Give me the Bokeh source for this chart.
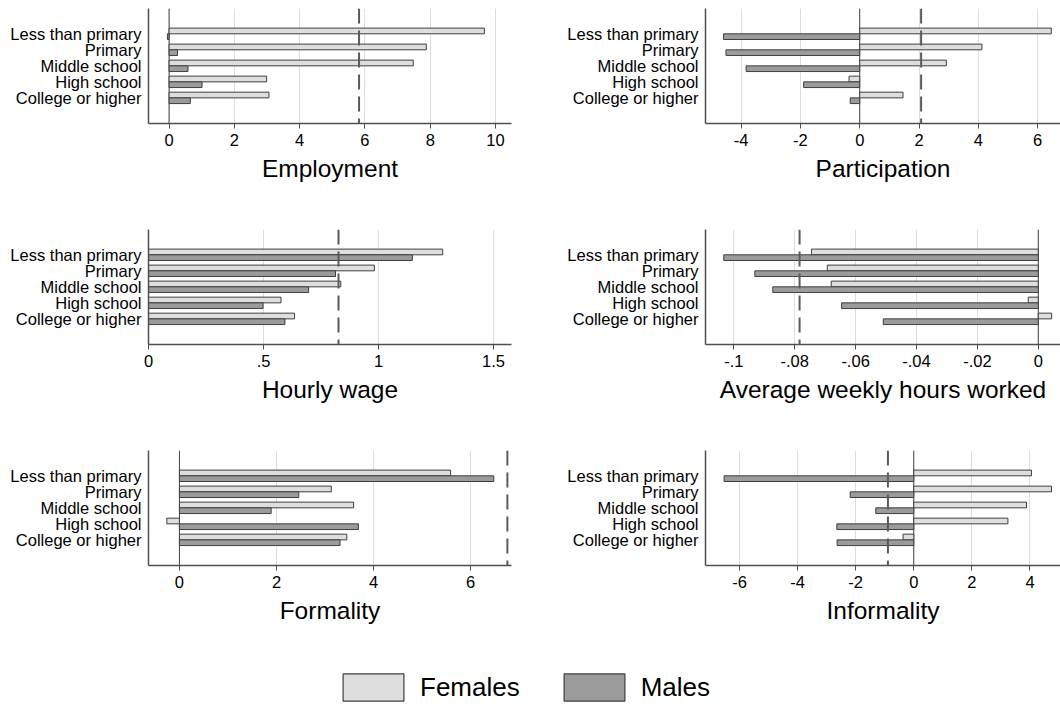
from bokeh.plotting import figure
from bokeh.layouts import column, row
from bokeh.models import (Range1d, FixedTicker, Span, Legend, LegendItem,
                          ColumnDataSource)
from bokeh.transform import dodge
from bokeh.embed import file_html
from bokeh.resources import INLINE

# Education groups, top to bottom
education = ["Less than primary", "Primary", "Middle school",
             "High school", "College or higher"]

# Estimated effects by group (females / males) and the overall (dashed) effect
employment_f = [9.66, 7.88, 7.48, 2.99, 3.06]
employment_m = [-0.05, 0.26, 0.58, 1.01, 0.65]
employment_all = 5.82

participation_f = [6.46, 4.12, 2.92, -0.36, 1.46]
participation_m = [-4.59, -4.51, -3.83, -1.89, -0.32]
participation_all = 2.07

wage_f = [1.279, 0.982, 0.836, 0.576, 0.635]
wage_m = [1.147, 0.813, 0.696, 0.498, 0.593]
wage_all = 0.826

hours_f = [-0.0745, -0.0693, -0.0680, -0.0033, 0.0044]
hours_m = [-0.1033, -0.0931, -0.0872, -0.0646, -0.0509]
hours_all = -0.0784

formality_f = [5.59, 3.13, 3.59, -0.26, 3.45]
formality_m = [6.48, 2.46, 1.89, 3.69, 3.31]
formality_all = 6.76

informality_f = [4.05, 4.74, 3.88, 3.24, -0.37]
informality_m = [-6.53, -2.19, -1.31, -2.65, -2.64]
informality_all = -0.89

# Axis ticks and their printed labels
employment_ticks = [0, 2, 4, 6, 8, 10]
employment_labels = ["0", "2", "4", "6", "8", "10"]
participation_ticks = [-4, -2, 0, 2, 4, 6]
participation_labels = ["-4", "-2", "0", "2", "4", "6"]
wage_ticks = [0, 0.5, 1, 1.5]
wage_labels = ["0", ".5", "1", "1.5"]
hours_ticks = [-0.1, -0.08, -0.06, -0.04, -0.02, 0]
hours_labels = ["-.1", "-.08", "-.06", "-.04", "-.02", "0"]
formality_ticks = [0, 2, 4, 6]
formality_labels = ["0", "2", "4", "6"]
informality_ticks = [-6, -4, -2, 0, 2, 4]
informality_labels = ["-6", "-4", "-2", "0", "2", "4"]

series_names = ["Females", "Males"]

FONT = "Liberation Sans"
FEMALE_FILL = "#dedede"
MALE_FILL = "#9b9b9b"
OUTLINE = "#3f3f3f"
AXIS = "#4f4f4f"
BAR_H = 0.356


def panel(fem, mal, overall, x0, x1, ticks, labels, title,
          side, zero_line=True):
    if side == "left":
        border_l, frame_w, border_r = 148, 363, 19
    else:
        border_l, frame_w, border_r = 175, 355, 0
    n = len(education)
    pos = [n - i for i in range(n)]
    p = figure(frame_width=frame_w, frame_height=115,
               min_border_left=border_l, min_border_right=border_r,
               min_border_top=8, min_border_bottom=98,
               x_range=Range1d(x0, x1), y_range=Range1d(-0.6, 6.58),
               output_backend="svg", toolbar_location=None,
               outline_line_color=None, background_fill_color="white",
               border_fill_color="white")

    p.xgrid.ticker = FixedTicker(ticks=ticks)
    p.xgrid.grid_line_color = "#dddddd"
    p.xgrid.grid_line_width = 1
    p.ygrid.grid_line_color = None

    if zero_line:
        p.add_layout(Span(location=0, dimension="height",
                          line_color="#444444", line_width=1,
                          level="underlay"))

    src = ColumnDataSource(dict(y=pos, f=fem, m=mal))
    p.hbar(y=dodge("y", BAR_H / 2), left=0, right="f", height=BAR_H,
           source=src, fill_color=FEMALE_FILL, line_color=OUTLINE,
           line_width=1)
    p.hbar(y=dodge("y", -BAR_H / 2), left=0, right="m", height=BAR_H,
           source=src, fill_color=MALE_FILL, line_color=OUTLINE,
           line_width=1)

    p.add_layout(Span(location=overall, dimension="height",
                      line_color="#5a5a5a", line_width=2,
                      line_dash="15 7"))

    xa = p.xaxis[0]
    xa.ticker = FixedTicker(ticks=ticks)
    xa.major_label_overrides = {t: s for t, s in zip(ticks, labels)}
    xa.axis_line_color = AXIS
    xa.axis_line_width = 1.5
    xa.major_tick_line_color = AXIS
    xa.major_tick_out = 5
    xa.major_tick_in = 0
    xa.minor_tick_out = 0
    xa.minor_tick_in = 0
    xa.major_label_standoff = 5
    xa.major_label_text_font = FONT
    xa.major_label_text_font_size = "16.5px"
    xa.major_label_text_color = "black"
    xa.axis_label = title
    xa.axis_label_text_font = FONT
    xa.axis_label_text_font_size = "24.5px"
    xa.axis_label_text_font_style = "normal"
    xa.axis_label_text_color = "black"
    xa.axis_label_standoff = 6

    ya = p.yaxis[0]
    ya.ticker = FixedTicker(ticks=pos)
    ya.major_label_overrides = {k: s for k, s in zip(pos, education)}
    ya.axis_line_color = AXIS
    ya.axis_line_width = 1.5
    ya.major_tick_out = 0
    ya.major_tick_in = 0
    ya.minor_tick_out = 0
    ya.minor_tick_in = 0
    ya.major_label_standoff = 7
    ya.major_label_text_font = FONT
    ya.major_label_text_font_size = "16.5px"
    ya.major_label_text_color = "black"
    return p


p1 = panel(employment_f, employment_m, employment_all, -0.63, 10.49,
           employment_ticks, employment_labels, "Employment", "left")
p2 = panel(participation_f, participation_m, participation_all, -5.2, 6.77,
           participation_ticks, participation_labels, "Participation",
           "right")
p3 = panel(wage_f, wage_m, wage_all, 0, 1.578,
           wage_ticks, wage_labels, "Hourly wage", "left", zero_line=False)
p4 = panel(hours_f, hours_m, hours_all, -0.1093, 0.0073,
           hours_ticks, hours_labels, "Average weekly hours worked", "right")
p5 = panel(formality_f, formality_m, formality_all, -0.638, 6.845,
           formality_ticks, formality_labels, "Formality", "left")
p6 = panel(informality_f, informality_m, informality_all, -7.17, 5.05,
           informality_ticks, informality_labels, "Informality", "right")

# Shared legend strip: placeholder renderers (NaN rows draw nothing)
# only supply the legend swatches.
leg = figure(width=1060, height=41, min_border_left=0, min_border_right=0,
             min_border_top=6, min_border_bottom=0,
             x_range=Range1d(0, 1), y_range=Range1d(0, 1),
             output_backend="svg", toolbar_location=None,
             outline_line_color=None)
leg.axis.visible = False
leg.grid.visible = False
nan = float("nan")
swatch_fills = [FEMALE_FILL, MALE_FILL]
items = []
for name, fill in zip(series_names, swatch_fills):
    r = leg.hbar(y=[nan], left=[nan], right=[nan], height=1,
                 fill_color=fill, line_color=OUTLINE, line_width=1.2)
    items.append(LegendItem(label=name, renderers=[r]))
legend = Legend(items=items, orientation="horizontal", location=(335, 0),
                glyph_width=76, glyph_height=34, label_standoff=9,
                spacing=36, padding=0, margin=0,
                label_text_font=FONT, label_text_font_size="26px",
                label_text_color="black",
                border_line_color=None, background_fill_alpha=0)
leg.add_layout(legend, "center")

layout = column(row(p1, p2), row(p3, p4), row(p5, p6), leg)

with open("out.html", "w") as fh:
    fh.write(file_html(layout, INLINE))
